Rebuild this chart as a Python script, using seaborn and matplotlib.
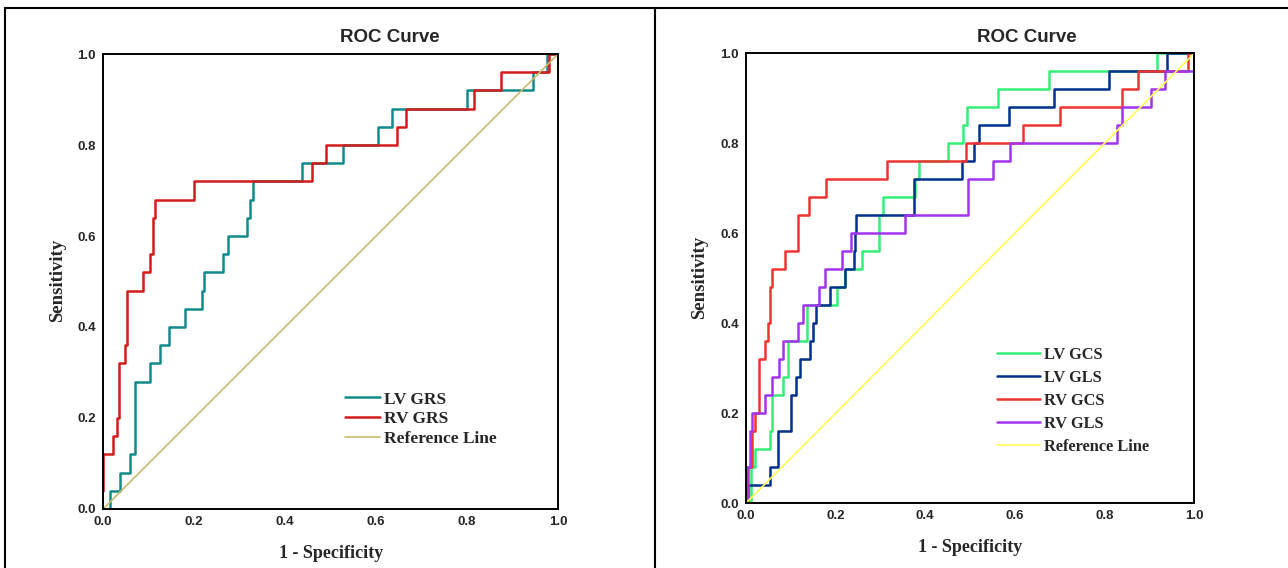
import matplotlib
matplotlib.use("Agg")
import matplotlib.pyplot as plt
import seaborn as sns
from matplotlib.lines import Line2D

# ---- data (1 - specificity, sensitivity at each step) ----
lv_grs_fpr = [0, 0.016, 0.037, 0.06, 0.071, 0.104, 0.126, 0.145, 0.18, 0.218, 0.222, 0.264, 0.274,
              0.317, 0.322, 0.33, 0.437, 0.527, 0.604, 0.636, 0.80, 0.945, 0.975, 1.0]
lv_grs_tpr = [0, 0.04, 0.08, 0.12, 0.28, 0.32, 0.36, 0.40, 0.44, 0.48, 0.52, 0.56, 0.60,
              0.64, 0.68, 0.72, 0.76, 0.80, 0.84, 0.88, 0.92, 0.96, 1.0, 1.0]

rv_grs_fpr = [0, 0, 0.022, 0.031, 0.035, 0.049, 0.053, 0.088, 0.104, 0.11, 0.114, 0.2, 0.46,
              0.49, 0.647, 0.665, 0.815, 0.874, 0.98, 1.0]
rv_grs_tpr = [0.04, 0.12, 0.16, 0.20, 0.32, 0.36, 0.48, 0.52, 0.56, 0.64, 0.68, 0.72, 0.76,
              0.80, 0.84, 0.88, 0.92, 0.96, 1.0, 1.0]

lv_gcs_fpr = [0, 0.011, 0.02, 0.053, 0.058, 0.082, 0.095, 0.136, 0.203, 0.221, 0.259, 0.296, 0.305,
              0.377, 0.387, 0.452, 0.485, 0.494, 0.563, 0.677, 0.916, 1.0]
lv_gcs_tpr = [0, 0.08, 0.12, 0.16, 0.24, 0.28, 0.36, 0.44, 0.48, 0.52, 0.56, 0.64, 0.68,
              0.72, 0.76, 0.80, 0.84, 0.88, 0.92, 0.96, 1.0, 1.0]

lv_gls_fpr = [0, 0.005, 0.054, 0.073, 0.102, 0.113, 0.12, 0.143, 0.15, 0.157, 0.188, 0.221, 0.241,
              0.244, 0.246, 0.376, 0.483, 0.51, 0.519, 0.588, 0.687, 0.811, 0.939, 1.0]
lv_gls_tpr = [0, 0.04, 0.08, 0.16, 0.24, 0.28, 0.32, 0.36, 0.40, 0.44, 0.48, 0.52, 0.56,
              0.60, 0.64, 0.72, 0.76, 0.80, 0.84, 0.88, 0.92, 0.96, 1.0, 1.0]

rv_gcs_fpr = [0, 0.005, 0.015, 0.02, 0.03, 0.043, 0.05, 0.054, 0.059, 0.088, 0.117, 0.141, 0.18,
              0.314, 0.491, 0.619, 0.70, 0.84, 0.875, 0.987, 1.0]
rv_gcs_tpr = [0, 0.08, 0.16, 0.20, 0.32, 0.36, 0.40, 0.48, 0.52, 0.56, 0.64, 0.68, 0.72,
              0.76, 0.80, 0.84, 0.88, 0.92, 0.96, 1.0, 1.0]

rv_gls_fpr = [0, 0.002, 0.01, 0.015, 0.043, 0.058, 0.075, 0.082, 0.117, 0.127, 0.164, 0.177, 0.214,
              0.235, 0.355, 0.496, 0.551, 0.589, 0.827, 0.84, 0.904, 0.935, 1.0, 1.0]
rv_gls_tpr = [0, 0.08, 0.16, 0.20, 0.24, 0.28, 0.32, 0.36, 0.40, 0.44, 0.48, 0.52, 0.56,
              0.60, 0.64, 0.72, 0.76, 0.80, 0.84, 0.88, 0.92, 0.96, 0.96, 1.0]

ref_line = [0, 1]
ticks = [0.0, 0.2, 0.4, 0.6, 0.8, 1.0]

left_series = [("LV GRS", lv_grs_fpr, lv_grs_tpr, "#138a8a"),
               ("RV GRS", rv_grs_fpr, rv_grs_tpr, "#d41c1c")]
right_series = [("LV GCS", lv_gcs_fpr, lv_gcs_tpr, "#33ee77"),
                ("LV GLS", lv_gls_fpr, lv_gls_tpr, "#00308c"),
                ("RV GCS", rv_gcs_fpr, rv_gcs_tpr, "#f03434"),
                ("RV GLS", rv_gls_fpr, rv_gls_tpr, "#a234f0")]

sns.set_style("white")
plt.rcParams["font.family"] = ["Liberation Sans", "DejaVu Sans"]

fig = plt.figure(figsize=(12.88, 5.68), dpi=100)
ax1 = fig.add_axes([0.080, 0.1039, 0.3533, 0.801])
ax2 = fig.add_axes([0.579, 0.1139, 0.3482, 0.7923])


def draw(ax, series, ref_color):
    for name, fpr, tpr, col in series:
        sns.lineplot(x=fpr, y=tpr, ax=ax, color=col, lw=1.8, label=name,
                     drawstyle="steps-post", sort=False, estimator=None)
    sns.lineplot(x=ref_line, y=ref_line, ax=ax, color=ref_color, lw=1.2,
                 label="Reference Line", sort=False, estimator=None)
    ax.set_xlim(0, 1)
    ax.set_ylim(0, 1)
    ax.set_xticks(ticks)
    ax.set_yticks(ticks)
    ax.set_xticklabels([f"{t:.1f}" for t in ticks], fontweight="bold", fontsize=9.5)
    ax.set_yticklabels([f"{t:.1f}" for t in ticks], fontweight="bold", fontsize=9.5)
    ax.tick_params(direction="out", length=4, width=1.2, pad=1, color="black")
    for sp in ax.spines.values():
        sp.set_visible(True)
        sp.set_color("black")
        sp.set_linewidth(1.4)
    ax.set_xlabel("")
    ax.set_ylabel("")


draw(ax1, left_series, "#c9bb6d")
draw(ax2, right_series, "#ffff55")

serif = {"family": ["Liberation Serif", "DejaVu Serif"], "weight": "bold"}
ax1.legend(loc="upper left", bbox_to_anchor=(0.268, 0.311), bbox_transform=fig.transFigure,
           frameon=False, prop=dict(serif, size=12.5), handlelength=2.0, handletextpad=0.25,
           labelspacing=0.2, borderpad=0, borderaxespad=0)
ax2.legend(loc="upper left", bbox_to_anchor=(0.774, 0.389), bbox_transform=fig.transFigure,
           frameon=False, prop=dict(serif, size=11.8), handlelength=2.6, handletextpad=0.3,
           labelspacing=0.42, borderpad=0, borderaxespad=0)

# titles and axis labels
fig.text(390 / 1288, 1 - 38 / 568, "ROC Curve", ha="center", va="center", fontsize=13.5, fontweight="bold")
fig.text(1027 / 1288, 1 - 38 / 568, "ROC Curve", ha="center", va="center", fontsize=13.5, fontweight="bold")
fig.text(58 / 1288, 1 - 280 / 568, "Sensitivity", rotation=90, ha="center", va="center", fontdict=dict(serif, size=13.5))
fig.text(700 / 1288, 1 - 277 / 568, "Sensitivity", rotation=90, ha="center", va="center", fontdict=dict(serif, size=13.5))
fig.text(331 / 1288, 1 - 553 / 568, "1 - Specificity", ha="center", va="center", fontdict=dict(serif, size=13))
fig.text(970 / 1288, 1 - 548 / 568, "1 - Specificity", ha="center", va="center", fontdict=dict(serif, size=13))

# outer panel frame
fig.add_artist(Line2D([5 / 1288, 1], [1 - 8 / 568, 1 - 8 / 568], transform=fig.transFigure, color="black", lw=1.5))
fig.add_artist(Line2D([5 / 1288, 5 / 1288], [0, 1 - 8 / 568], transform=fig.transFigure, color="black", lw=1.5))
fig.add_artist(Line2D([655 / 1288, 655 / 1288], [0, 1 - 8 / 568], transform=fig.transFigure, color="black", lw=1.5))

fig.savefig("out.png", dpi=100)
